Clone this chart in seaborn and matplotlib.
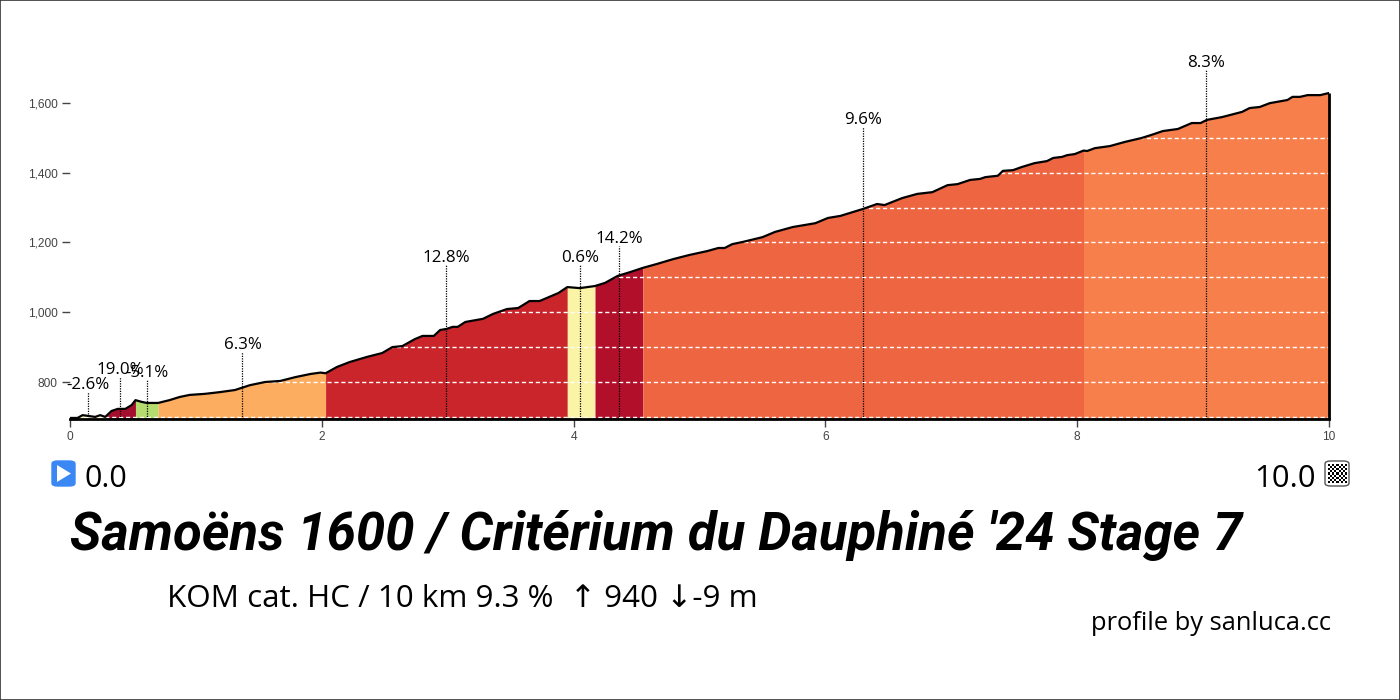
import numpy as np
import matplotlib
matplotlib.use('Agg')
import matplotlib.pyplot as plt
from matplotlib.patches import FancyBboxPatch, Polygon, Rectangle
import seaborn as sns

# profile: km and metres
dist_km = [0, 0.06, 0.10, 0.14, 0.20, 0.24, 0.28, 0.33, 0.38, 0.44, 0.49, 0.52, 0.57, 0.61, 0.70, 0.79, 0.87, 0.95,
           1.07, 1.19, 1.31, 1.43, 1.55, 1.67, 1.79, 1.91, 1.99, 2.03, 2.12, 2.22, 2.36, 2.48, 2.56, 2.64, 2.74, 2.80,
           2.89, 2.94, 2.99, 3.04, 3.08, 3.14, 3.28, 3.36, 3.47, 3.56, 3.65, 3.73, 3.88, 3.95, 4.05, 4.17, 4.25, 4.35,
           4.45, 4.55, 4.66, 4.79, 4.92, 5.06, 5.15, 5.20, 5.26, 5.34, 5.50, 5.60, 5.74, 5.92, 6.02, 6.12, 6.30, 6.41,
           6.47, 6.61, 6.73, 6.85, 6.97, 7.05, 7.15, 7.23, 7.27, 7.37, 7.41, 7.49, 7.56, 7.66, 7.76, 7.81, 7.88, 7.92,
           7.98, 8.05, 8.08, 8.14, 8.26, 8.38, 8.51, 8.59, 8.68, 8.80, 8.91, 8.98, 9.03, 9.15, 9.31, 9.37, 9.45, 9.53,
           9.67, 9.71, 9.77, 9.83, 9.93, 10.0]
elev_m = [697, 697, 705, 703, 700, 705, 700, 717, 723, 723, 734, 748, 743, 740, 740, 748, 757, 763,
          766, 771, 777, 791, 800, 803, 814, 823, 827, 825, 843, 857, 872, 883, 900, 903, 923, 932,
          932, 949, 952, 958, 958, 972, 981, 995, 1009, 1012, 1032, 1032, 1055, 1072, 1069, 1075, 1084, 1104,
          1115, 1127, 1138, 1152, 1164, 1175, 1184, 1184, 1195, 1201, 1215, 1230, 1244, 1255, 1270, 1276, 1296, 1310,
          1307, 1327, 1339, 1344, 1364, 1367, 1379, 1382, 1387, 1391, 1405, 1407, 1416, 1427, 1433, 1442, 1445, 1450,
          1453, 1463, 1462, 1470, 1476, 1488, 1499, 1508, 1519, 1525, 1542, 1542, 1551, 1559, 1574, 1585, 1588, 1599,
          1608, 1617, 1617, 1622, 1622, 1628]

# gradient sections
seg_start = [0, 0.28, 0.52, 0.70, 2.03, 3.95, 4.17, 4.55, 8.05]
seg_end = [0.28, 0.52, 0.70, 2.03, 3.95, 4.17, 4.55, 8.05, 10.0]
seg_color = ['#fbf3a6', '#a50f2d', '#b5dc6e', '#fdad60', '#c9252b', '#fbf3a6', '#b10f2a', '#ee6542', '#f67f4b']

# gradient labels on dotted lines
mark_km = [0.14, 0.40, 0.61, 1.37, 2.99, 4.05, 4.36, 6.30, 9.02]
mark_top = [771, 814, 806, 886, 1135, 1135, 1190, 1530, 1694]
mark_text = ['-2.6%', '19.0%', '-5.1%', '6.3%', '12.8%', '0.6%', '14.2%', '9.6%', '8.3%']

x_ticks = [0, 2, 4, 6, 8, 10]
y_ticks = [800, 1000, 1200, 1400, 1600]
grid_levels = [700, 800, 900, 1000, 1100, 1200, 1300, 1400, 1500]

title_text = "Samoëns 1600 / Critérium du Dauphiné '24 Stage 7"
sub_text = 'KOM cat. HC / 10 km 9.3 %  ↑ 940 ↓-9 m'
credit_text = 'profile by sanluca.cc'
start_text = '0.0'
end_text = '10.0'

sns.set_theme(style='white')
plt.rcParams['font.family'] = ['Open Sans', 'DejaVu Sans']

W, H = 1400, 700
fig = plt.figure(figsize=(W / 100, H / 100), dpi=100, facecolor='white')


def fx(px):
    return px / W


def fy(py):
    return 1 - py / H


# 图表区域
ax = fig.add_axes([fx(70), fy(419), fx(1329 - 70), fy(50) - fy(419)])
dist = np.array(dist_km)
elev = np.array(elev_m)
base = 694

for s, e, c in zip(seg_start, seg_end, seg_color):
    m = (dist >= s) & (dist <= e)
    ax.fill_between(dist[m], base, elev[m], color=c, linewidth=0, zorder=1)

ax.hlines(grid_levels, 0, 10, colors='white', linestyles=(0, (3, 2)), linewidth=1, zorder=2)
ax.vlines(mark_km, base, mark_top, colors='black', linestyles=(0, (1, 1)), linewidth=0.9, zorder=3)
for k, t, s in zip(mark_km, mark_top, mark_text):
    ax.annotate(s, (k, t), xytext=(0, -0.5), textcoords='offset points', ha='center', va='bottom',
                fontsize=12.2, color='black', zorder=6)

sns.lineplot(x=dist_km, y=elev_m, ax=ax, color='black', linewidth=1.6, zorder=5)
ax.vlines(10, base, elev_m[-1], colors='black', linewidth=2, zorder=5, clip_on=False)

ax.set_xlim(0, 10)
ax.set_ylim(base, 800 + (382 - 50) / 0.349)
ax.set_xticks(x_ticks)
ax.set_yticks(y_ticks)
ax.set_yticklabels([f'{v:,}' for v in y_ticks])
ax.tick_params(axis='both', length=6, width=1, color='#444444', labelcolor='#444444', pad=3, left=True, bottom=True)
for lab in ax.get_xticklabels() + ax.get_yticklabels():
    lab.set_family('Liberation Sans')
    lab.set_fontsize(8.6)
for sp in ['top', 'right', 'left']:
    ax.spines[sp].set_visible(False)
ax.spines['bottom'].set_color('black')
ax.spines['bottom'].set_linewidth(2)

# 下方文字
fig.text(fx(70), fy(550), title_text, fontsize=37.9, fontweight='bold', fontstyle='italic',
         family=['Roboto', 'DejaVu Sans'], color='black', va='baseline')
fig.text(fx(167), fy(607), sub_text, fontsize=22.6, color='black', va='baseline')
fig.text(fx(1331), fy(630), credit_text, fontsize=18.4, color='black', ha='right', va='baseline')
fig.text(fx(84), fy(487), start_text, fontsize=22, color='black', va='baseline')
fig.text(fx(1316), fy(487), end_text, fontsize=22.4, color='black', ha='right', va='baseline')

# start button
fig.add_artist(FancyBboxPatch((fx(52), fy(486)), fx(23), fy(461) - fy(486),
                              boxstyle='round,pad=0,rounding_size=0.004', transform=fig.transFigure,
                              facecolor='#3b88f5', edgecolor='#3b88f5', linewidth=1))
fig.add_artist(Polygon([(fx(57), fy(465)), (fx(57), fy(482)), (fx(71), fy(473.5))], closed=True,
                       transform=fig.transFigure, facecolor='white', edgecolor='none'))

# finish flag
fig.add_artist(FancyBboxPatch((fx(1325), fy(486)), fx(24), fy(461) - fy(486),
                              boxstyle='round,pad=0,rounding_size=0.004', transform=fig.transFigure,
                              facecolor='white', edgecolor='#555555', linewidth=1))
flag = fig.add_axes([fx(1328), fy(483), fx(18), fy(464) - fy(483)], zorder=5)
flag.imshow(np.indices((9, 9)).sum(axis=0) % 2, cmap='gray', interpolation='nearest', aspect='auto')
flag.axis('off')

# outer frame
fig.add_artist(Rectangle((0, 0), 1, 1, transform=fig.transFigure, fill=False, edgecolor='#333333', linewidth=1.2))

fig.savefig('out.png', dpi=100)
